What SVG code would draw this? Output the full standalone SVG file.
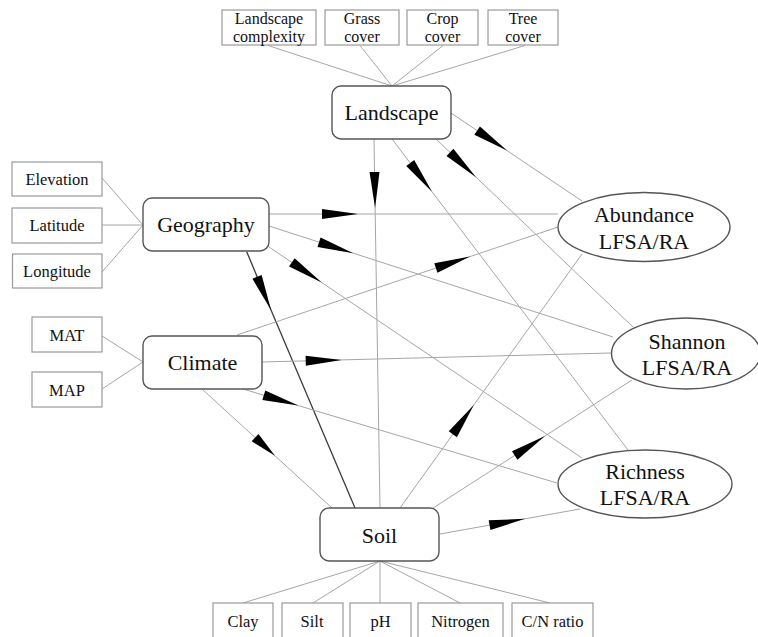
<svg xmlns="http://www.w3.org/2000/svg" width="758" height="637" viewBox="0 0 758 637">
<style>
.e{stroke:#a6a6a6;stroke-width:1;fill:none}
.d{stroke:#3c3c3c;stroke-width:1.3;fill:none}
.leaf{fill:#fff;stroke:#9a9a9a;stroke-width:1.2}
.node{fill:#fff;stroke:#555;stroke-width:1.4}
.lt{font-family:"Liberation Serif","Times New Roman",serif;font-size:16.5px;fill:#111;text-anchor:middle}
.tt{font-family:"Liberation Serif","Times New Roman",serif;font-size:16px;fill:#111;text-anchor:middle}
.nt{font-family:"Liberation Serif","Times New Roman",serif;font-size:22px;fill:#111;text-anchor:middle}
</style>
<defs>
<marker id="ah" markerUnits="userSpaceOnUse" markerWidth="40" markerHeight="12" refX="36" refY="6" orient="auto" overflow="visible"><path d="M0,1 L36,6 L0,11 Z" fill="#000"/></marker>
<marker id="ahs" markerUnits="userSpaceOnUse" markerWidth="30" markerHeight="12" refX="27" refY="6" orient="auto" overflow="visible"><path d="M0,1 L27,6 L0,11 Z" fill="#000"/></marker>
</defs>
<rect width="758" height="637" fill="#fff"/>
<g id="connectors">
<path class="e" d="M268,45.5 L392,86"/>
<path class="e" d="M360,45.5 L392,86"/>
<path class="e" d="M443,45.5 L392,86"/>
<path class="e" d="M525,45.5 L392,86"/>
<path class="e" d="M102,178 L143,225"/>
<path class="e" d="M102,225 L143,225"/>
<path class="e" d="M102,272 L143,225"/>
<path class="e" d="M102,336 L143,362"/>
<path class="e" d="M102,389 L143,362"/>
<path class="e" d="M380,561 L243,603"/>
<path class="e" d="M380,561 L313,603"/>
<path class="e" d="M380,561 L380,603"/>
<path class="e" d="M380,561 L460,603"/>
<path class="e" d="M380,561 L550,603"/>
<path class="e" marker-mid="url(#ah)" d="M451,113 L507,150.6 L582,201"/>
<path class="e" marker-mid="url(#ah)" d="M436,139 L476,177.2 L633,327"/>
<path class="e" marker-mid="url(#ah)" d="M392,139 L432,191.7 L628,450"/>
<path class="e" marker-mid="url(#ah)" d="M374,139 L375.1,208 L380,508"/>
<path class="e" marker-mid="url(#ah)" d="M269,214 L358,214 L558,214"/>
<path class="e" marker-mid="url(#ah)" d="M269,226 L353.3,253.2 L613,337"/>
<path class="e" marker-mid="url(#ah)" d="M269,247 L321.7,282.5 L582,458"/>
<path class="d" marker-mid="url(#ah)" d="M246.7,251.7 L271,310 L355,508"/>
<path class="e" marker-mid="url(#ah)" d="M237,335 L470,256.6 L558,227"/>
<path class="e" marker-mid="url(#ah)" d="M262,362 L341.7,359.9 L611,353"/>
<path class="e" marker-mid="url(#ah)" d="M243,389 L298.3,405.6 L557,483"/>
<path class="e" marker-mid="url(#ahs)" d="M202,389 L275,455.8 L332,508"/>
<path class="e" marker-mid="url(#ah)" d="M400,508 L473.8,405 L582,254"/>
<path class="e" marker-mid="url(#ah)" d="M433,508 L545,436 L632,380"/>
<path class="e" marker-mid="url(#ah)" d="M440,534 L525,518.8 L580,509"/>
</g>
<g id="n_landscape_complexity"><rect class="leaf" x="222" y="10" width="94" height="35"/><text class="tt" x="269" y="23.5">Landscape</text><text class="tt" x="269" y="42">complexity</text></g>
<g id="n_grass_cover"><rect class="leaf" x="325" y="10" width="74" height="35"/><text class="tt" x="362" y="23.5">Grass</text><text class="tt" x="362" y="42">cover</text></g>
<g id="n_crop_cover"><rect class="leaf" x="407" y="10" width="71" height="35"/><text class="tt" x="442.5" y="23.5">Crop</text><text class="tt" x="442.5" y="42">cover</text></g>
<g id="n_tree_cover"><rect class="leaf" x="488" y="10" width="70" height="35"/><text class="tt" x="523" y="23.5">Tree</text><text class="tt" x="523" y="42">cover</text></g>
<g id="n_elevation"><rect class="leaf" x="12" y="162" width="90" height="34"/><text class="lt" x="57" y="185">Elevation</text></g>
<g id="n_latitude"><rect class="leaf" x="12" y="208" width="90" height="35"/><text class="lt" x="57" y="231">Latitude</text></g>
<g id="n_longitude"><rect class="leaf" x="12.5" y="254" width="89.5" height="34"/><text class="lt" x="57" y="277">Longitude</text></g>
<g id="n_mat"><rect class="leaf" x="32" y="317" width="70" height="35"/><text class="lt" x="67" y="340.5">MAT</text></g>
<g id="n_map"><rect class="leaf" x="32" y="372" width="70" height="35"/><text class="lt" x="67" y="395.5">MAP</text></g>
<g id="n_clay"><rect class="leaf" x="213" y="603" width="60" height="42"/><text class="lt" x="243" y="627">Clay</text></g>
<g id="n_silt"><rect class="leaf" x="282" y="603" width="61" height="42"/><text class="lt" x="312" y="627">Silt</text></g>
<g id="n_ph"><rect class="leaf" x="350" y="603" width="61" height="42"/><text class="lt" x="380.5" y="627">pH</text></g>
<g id="n_nitrogen"><rect class="leaf" x="418" y="603" width="85" height="42"/><text class="lt" x="460.5" y="627">Nitrogen</text></g>
<g id="n_cn_ratio"><rect class="leaf" x="512" y="603" width="81" height="42"/><text class="lt" x="552.5" y="627">C/N ratio</text></g>
<g id="n_landscape"><rect class="node" x="332" y="86" width="119" height="53" rx="9"/><text class="nt" x="391.5" y="120">Landscape</text></g>
<g id="n_geography"><rect class="node" x="143" y="198" width="126" height="53" rx="9"/><text class="nt" x="206" y="232">Geography</text></g>
<g id="n_climate"><rect class="node" x="143" y="336" width="119" height="53" rx="9"/><text class="nt" x="202.5" y="370">Climate</text></g>
<g id="n_soil"><rect class="node" x="320" y="508" width="119" height="53" rx="9"/><text class="nt" x="379.5" y="543">Soil</text></g>
<g id="n_abundance"><ellipse class="node" cx="644" cy="227" rx="86" ry="34.5"/><text class="nt" x="644" y="221.5">Abundance</text><text class="nt" x="644" y="248.5">LFSA/RA</text></g>
<g id="n_shannon"><ellipse class="node" cx="686" cy="353.5" rx="74.5" ry="35.5"/><text class="nt" x="687" y="348.5">Shannon</text><text class="nt" x="687" y="375">LFSA/RA</text></g>
<g id="n_richness"><ellipse class="node" cx="645" cy="484" rx="87" ry="34"/><text class="nt" x="645" y="478.5">Richness</text><text class="nt" x="645" y="505">LFSA/RA</text></g>
</svg>
